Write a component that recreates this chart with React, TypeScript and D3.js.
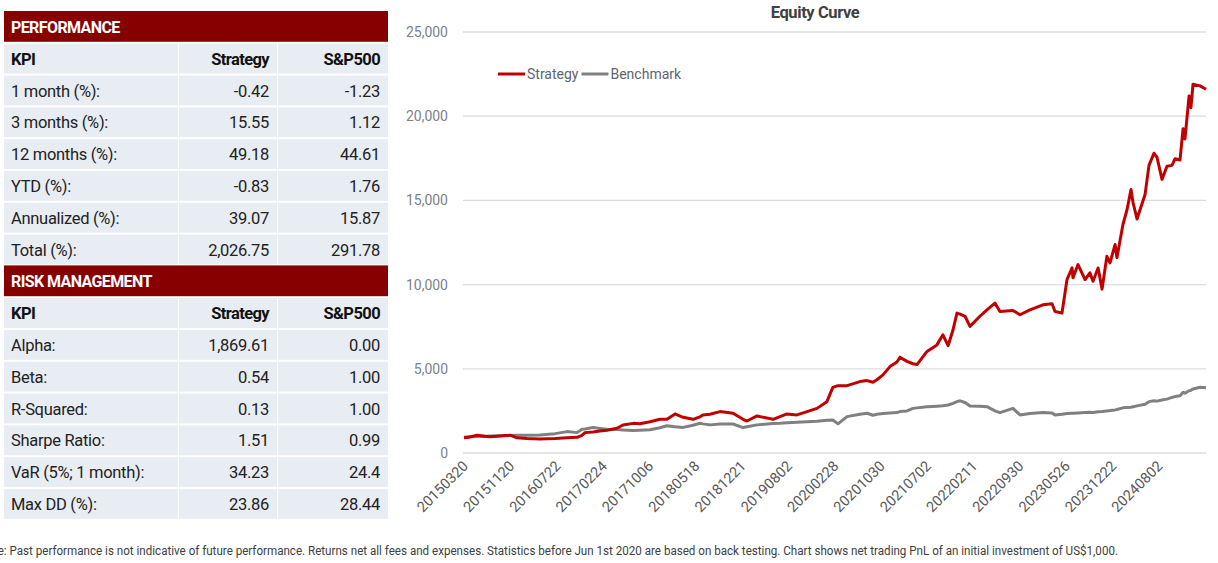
import * as d3 from "d3";
import { useEffect, useRef } from "react";

const FONT = "Roboto, 'Liberation Sans', sans-serif";

// table content
const perfLabels = ["1 month (%):", "3 months (%):", "12 months (%):", "YTD (%):", "Annualized (%):", "Total (%):"];
const perfStrategy = ["-0.42", "15.55", "49.18", "-0.83", "39.07", "2,026.75"];
const perfSp500 = ["-1.23", "1.12", "44.61", "1.76", "15.87", "291.78"];
const riskLabels = ["Alpha:", "Beta:", "R-Squared:", "Sharpe Ratio:", "VaR (5%; 1 month):", "Max DD (%):"];
const riskStrategy = ["1,869.61", "0.54", "0.13", "1.51", "34.23", "23.86"];
const riskSp500 = ["0.00", "1.00", "1.00", "0.99", "24.4", "28.44"];
const colHeaders = ["KPI", "Strategy", "S&P500"];

// category labels shown on the x axis
const tickDates = [
  "20150320", "20151120", "20160722", "20170224", "20171006", "20180518", "20181221", "20190802",
  "20200228", "20201030", "20210702", "20220211", "20220930", "20230526", "20231222", "20240802",
];

// equity curve samples
const dates = [
  "2015-03-20", "2015-04-21", "2015-05-28", "2015-07-09", "2015-08-05", "2015-09-26", "2015-11-20", "2015-12-25",
  "2016-02-16", "2016-04-25", "2016-07-14", "2016-09-09", "2016-10-26", "2016-11-18", "2016-12-02", "2017-01-09",
  "2017-02-10", "2017-03-16", "2017-05-03", "2017-06-01", "2017-07-20", "2017-08-22", "2017-10-10", "2017-11-27",
  "2017-12-31", "2018-02-08", "2018-03-19", "2018-05-06", "2018-06-08", "2018-06-22", "2018-07-25", "2018-09-10",
  "2018-11-10", "2018-12-27", "2019-01-15", "2019-03-05", "2019-05-21", "2019-06-24", "2019-07-28", "2019-09-11",
  "2019-10-27", "2019-12-11", "2020-01-25", "2020-02-21", "2020-03-18", "2020-05-05", "2020-07-12", "2020-08-19",
  "2020-09-19", "2020-10-10", "2020-11-11", "2020-12-18", "2021-01-24", "2021-02-09", "2021-03-18", "2021-04-19",
  "2021-05-10", "2021-07-02", "2021-08-19", "2021-09-17", "2021-10-12", "2021-11-05", "2021-11-24", "2021-12-09",
  "2022-01-02", "2022-01-26", "2022-03-16", "2022-04-20", "2022-05-30", "2022-06-24", "2022-08-28", "2022-10-02",
  "2022-11-22", "2023-01-28", "2023-03-16", "2023-03-31", "2023-05-06", "2023-05-31", "2023-06-23", "2023-06-27",
  "2023-07-20", "2023-08-21", "2023-09-12", "2023-09-26", "2023-10-19", "2023-11-06", "2023-11-28", "2023-12-12",
  "2024-01-05", "2024-01-14", "2024-02-12", "2024-03-03", "2024-03-22", "2024-04-01", "2024-04-20", "2024-05-29",
  "2024-06-17", "2024-07-11", "2024-07-26", "2024-08-19", "2024-09-12", "2024-10-06", "2024-10-21", "2024-11-14",
  "2024-11-29", "2024-12-08", "2024-12-28", "2025-01-06", "2025-01-16", "2025-02-19", "2025-03-20",
];
const strategy = [
  900, 950, 1060, 1000, 970, 1010, 1060, 900,
  860, 830, 860, 900, 930, 1050, 1210, 1250,
  1310, 1350, 1470, 1660, 1760, 1740, 1860, 2000,
  2000, 2320, 2120, 2000, 2150, 2260, 2300, 2460,
  2360, 2000, 1900, 2200, 2000, 2160, 2320, 2260,
  2460, 2650, 3050, 3900, 4000, 4000, 4240, 4300,
  4200, 4350, 4640, 5130, 5400, 5690, 5440, 5300,
  5250, 6030, 6420, 7020, 6370, 7320, 8310, 8250,
  8120, 7520, 8120, 8500, 8900, 8400, 8460, 8210,
  8500, 8800, 8860, 8400, 8310, 10300, 10990, 10400,
  11190, 10300, 10700, 10200, 10990, 9730, 11680, 11290,
  12380, 11600, 13570, 14460, 15650, 14860, 13900, 15350,
  17080, 17800, 17550, 16250, 17030, 17080, 17470, 17400,
  19260, 18650, 21200, 20510, 21900, 21800, 21600,
];
const benchmark = [
  935, 960, 980, 1000, 1010, 1030, 1040, 1050,
  1050, 1070, 1150, 1270, 1210, 1410, 1420, 1510,
  1460, 1410, 1390, 1370, 1330, 1350, 1380, 1500,
  1620, 1560, 1520, 1650, 1770, 1730, 1670, 1720,
  1720, 1510, 1560, 1670, 1750, 1770, 1800, 1830,
  1850, 1880, 1940, 1960, 1730, 2160, 2300, 2360,
  2240, 2300, 2350, 2380, 2400, 2460, 2500, 2650,
  2680, 2740, 2780, 2800, 2850, 2950, 3050, 3100,
  3000, 2790, 2770, 2750, 2500, 2400, 2650, 2260,
  2350, 2400, 2380, 2260, 2300, 2350, 2360, 2360,
  2380, 2400, 2420, 2400, 2450, 2460, 2500, 2520,
  2560, 2580, 2680, 2700, 2720, 2750, 2800, 2900,
  3050, 3100, 3080, 3150, 3200, 3300, 3350, 3400,
  3600, 3550, 3700, 3720, 3800, 3900, 3870,
];
const yTicks = [0, 5000, 10000, 15000, 20000, 25000];
const seriesNames = ["Strategy", "Benchmark"];
const seriesColors = ["#c00000", "#808080"];

const footnote =
  "Note: Past performance is not indicative of future performance. Returns net all fees and expenses. Statistics before Jun 1st 2020 are based on back testing. Chart shows net trading PnL of an initial investment of US$1,000.";

const W = 1218;
const H = 563;

const App = () => {
  const ref = useRef<SVGSVGElement>(null);

  useEffect(() => {
    const svg = d3.select(ref.current);
    svg.selectAll("*").remove();
    svg.style("font-family", FONT);

    // ---- table ----
    const tbl = { top: 11, rowH: 31.8, cols: [4, 178, 277, 388] };
    const sections = [
      { title: "PERFORMANCE", labels: perfLabels, a: perfStrategy, b: perfSp500 },
      { title: "RISK MANAGEMENT", labels: riskLabels, a: riskStrategy, b: riskSp500 },
    ];
    const t = svg.append("g");
    let row = 0;
    sections.forEach((s) => {
      const y0 = tbl.top + row * tbl.rowH;
      t.append("rect").attr("x", tbl.cols[0]).attr("y", y0).attr("width", tbl.cols[3] - tbl.cols[0])
        .attr("height", tbl.rowH - 1).attr("fill", "#870000");
      t.append("text").attr("x", 11).attr("y", y0 + tbl.rowH / 2 + 6).attr("fill", "#fff")
        .attr("font-size", 16).attr("font-weight", "bold").attr("letter-spacing", -0.6).text(s.title);
      row++;
      const rows = [colHeaders, ...s.labels.map((l, i) => [l, s.a[i], s.b[i]])];
      rows.forEach((r, ri) => {
        const y = tbl.top + row * tbl.rowH;
        for (let c = 0; c < 3; c++) {
          t.append("rect").attr("x", tbl.cols[c] + (c ? 1 : 0)).attr("y", y + 1)
            .attr("width", tbl.cols[c + 1] - tbl.cols[c] - (c ? 1 : 0)).attr("height", tbl.rowH - 2)
            .attr("fill", "#e8ecf3");
          t.append("text")
            .attr("x", c === 0 ? 11 : tbl.cols[c + 1] - 8)
            .attr("y", y + tbl.rowH / 2 + 6)
            .attr("text-anchor", c === 0 ? "start" : "end")
            .attr("font-size", 16.5)
            .attr("letter-spacing", ri === 0 ? -0.6 : -0.3)
            .attr("font-weight", ri === 0 ? "bold" : "normal")
            .attr("fill", ri === 0 ? "#111" : "#222")
            .text(r[c]);
        }
        row++;
      });
    });

    // ---- chart ----
    const parse = d3.timeParse("%Y%m%d");
    const parseIso = d3.timeParse("%Y-%m-%d");
    const fmt = d3.timeFormat("%Y%m%d");
    const tickD = tickDates.map((d) => parse(d) as Date);
    const x0 = 464;
    const step = 46.3;
    const x = d3.scaleTime().domain(tickD).range(tickD.map((_, i) => x0 + i * step));
    const y = d3.scaleLinear().domain([0, 25000]).range([453, 32]);
    const pts = dates.map((d) => parseIso(d) as Date);
    const xEnd = x(pts[pts.length - 1]);

    const g = svg.append("g");
    g.selectAll("line.grid").data(yTicks).enter().append("line")
      .attr("x1", 463).attr("x2", xEnd).attr("y1", (d) => y(d)).attr("y2", (d) => y(d))
      .attr("stroke", "#dcdcdc").attr("stroke-width", 1.3);
    g.selectAll("text.yl").data(yTicks).enter().append("text")
      .attr("x", 448).attr("y", (d) => y(d) + 5).attr("text-anchor", "end")
      .attr("font-size", 14).attr("fill", "#7d828a").text((d) => d3.format(",")(d));

    g.selectAll("text.xl").data(tickD).enter().append("text")
      .attr("transform", (d) => `translate(${x(d) + 5},${467}) rotate(-45)`)
      .attr("text-anchor", "end").attr("font-size", 14.5).attr("fill", "#595959")
      .text((d) => fmt(d));

    const line = d3.line<number>().x((_, i) => x(pts[i])).y((d) => y(d));
    [benchmark, strategy].forEach((s, k) => {
      g.append("path").attr("d", line(s) as string).attr("fill", "none")
        .attr("stroke", k === 0 ? seriesColors[1] : seriesColors[0])
        .attr("stroke-width", 3).attr("stroke-linejoin", "round");
    });

    g.append("text").attr("x", 815).attr("y", 18).attr("text-anchor", "middle")
      .attr("font-size", 16.5).attr("font-weight", "bold").attr("letter-spacing", -0.4)
      .attr("fill", "#404040").text("Equity Curve");

    // legend
    const lg = g.append("g");
    let lx = 498;
    seriesNames.forEach((n, i) => {
      lg.append("line").attr("x1", lx).attr("x2", lx + 27).attr("y1", 74).attr("y2", 74)
        .attr("stroke", seriesColors[i]).attr("stroke-width", 3);
      const tx = lg.append("text").attr("x", lx + 29).attr("y", 79).attr("font-size", 14)
        .attr("fill", "#5f6470").text(n);
      const w = (tx.node() as SVGTextElement).getComputedTextLength();
      lx += 29 + w + 3;
    });

    // footnote, its start runs off the left edge as in the original export
    svg.append("text").attr("x", -21).attr("y", 555)
      .attr("textLength", 1139).attr("lengthAdjust", "spacingAndGlyphs")
      .attr("font-size", 12).attr("fill", "#404040").text(footnote);
  }, []);

  return (
    <svg
      ref={ref}
      width={W}
      height={H}
      style={{ position: "absolute", left: 0, top: 0, background: "#fff" }}
    />
  );
};

export default App;
